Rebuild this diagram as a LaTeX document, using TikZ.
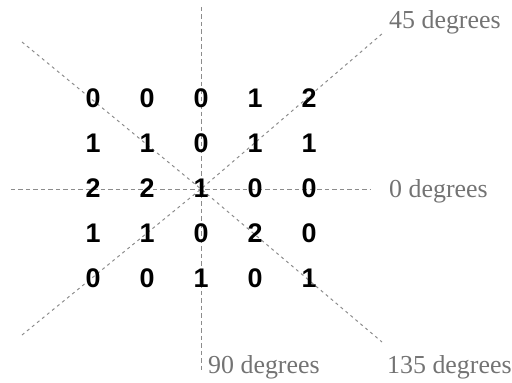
\documentclass[tikz,border=0pt]{standalone}
\usepackage{fontspec}
\setmainfont{Liberation Serif}
\newfontfamily\digitfont{Liberation Sans}
\begin{document}
\begin{tikzpicture}[x=1bp,y=-1bp,
  num/.style={font=\digitfont\bfseries\fontsize{27}{27}\selectfont, inner sep=0pt, text=black},
  lbl/.style={font=\fontsize{26}{26}\selectfont, text=black!55, inner sep=0pt, anchor=base west},
  axisline/.style={draw=black!45, line width=1pt, dash pattern=on 4.5pt off 3pt},
  diagline/.style={draw=black!45, line width=1pt, dash pattern=on 3pt off 3.5pt}]
\useasboundingbox (0,0) rectangle (512,382);
% end points of the lines
\coordinate (c) at (201,189);
\coordinate (hl) at (11,189);
\coordinate (hr) at (370,189);
\coordinate (vt) at (201,7);
\coordinate (vb) at (201,371);
\coordinate (da) at (22,335);
\coordinate (db) at (383,33);
\coordinate (ea) at (22,42);
\coordinate (eb) at (382,342);
% lines
\draw[axisline] (hl) -- (c) -- (hr);
\draw[axisline] (vt) -- (c) -- (vb);
\draw[diagline] (da) -- (c) -- (db);
\draw[diagline] (ea) -- (c) -- (eb);
% grid of numbers
\foreach \r/\vals in {1/{0,0,0,1,2},2/{1,1,0,1,1},3/{2,2,1,0,0},4/{1,1,0,2,0},5/{0,0,1,0,1}}{
  \foreach \v [count=\c] in \vals {
    \node[num] (n-\r-\c) at ({93+54*(\c-1)},{98+45*(\r-1)}) {\v};
  }
}
% labels
\node[lbl] (l45) at (389,28) {45 degrees};
\node[lbl] (l0) at (389,197) {0 degrees};
\node[lbl] (l90) at (208,373) {90 degrees};
\node[lbl] (l135) at (387,373) {135 degrees};
\end{tikzpicture}
\end{document}
